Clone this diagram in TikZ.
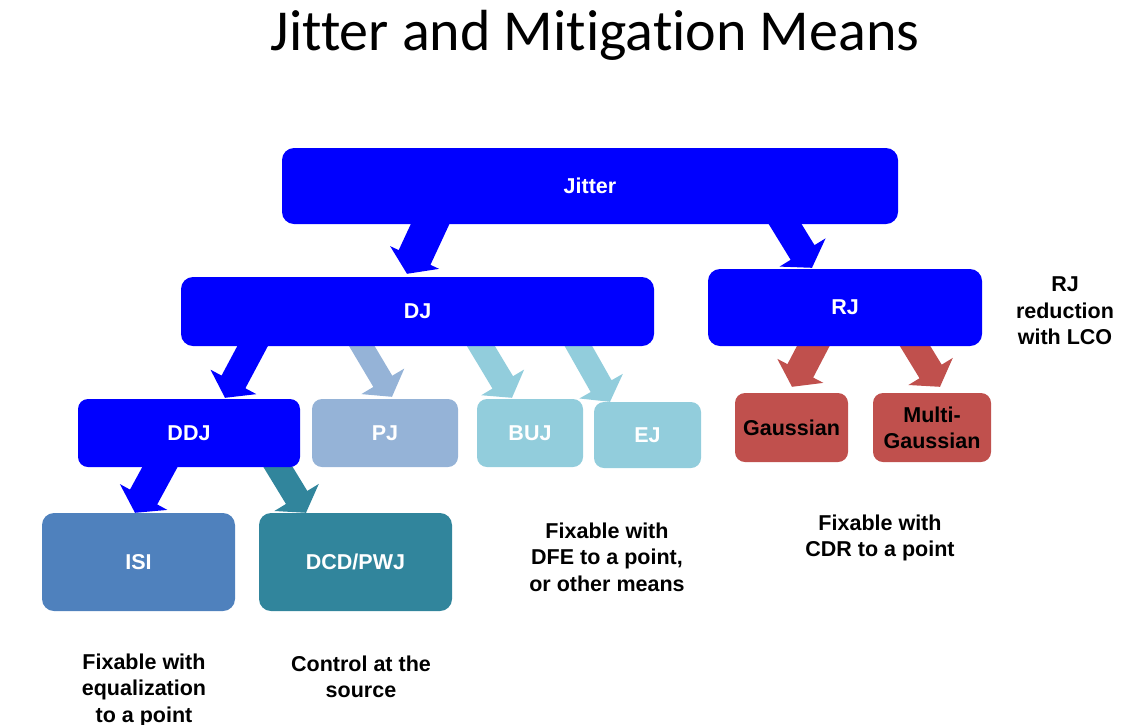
\documentclass[tikz,border=0pt]{standalone}
\usepackage{fontspec}
\setmainfont{Liberation Sans}
\newfontfamily\titlefont{Carlito}[Ligatures=NoCommon]
\usetikzlibrary{calc}
\pgfdeclarelayer{bg}
\pgfsetlayers{bg,main}
\definecolor{jblue}{HTML}{0000FF}
\definecolor{pjcol}{HTML}{95B3D7}
\definecolor{bujcol}{HTML}{92CDDC}
\definecolor{redcol}{HTML}{C0504D}
\definecolor{isicol}{HTML}{4F81BD}
\definecolor{tealcol}{HTML}{31859C}
% color, start, tip, half shaft width, half head width
\newcommand\blockarrow[5]{%
  \coordinate (bab) at ($(#3)!18pt!(#2)$);
  \fill[#1] ($(#2)!#4!90:(#3)$) -- ($(bab)!#4!90:(#3)$) -- ($(bab)!#5!90:(#3)$) -- (#3)
    -- ($(bab)!#5!-90:(#3)$) -- ($(bab)!#4!-90:(#3)$) -- ($(#2)!#4!-90:(#3)$) -- cycle;}
\tikzset{
  box/.style={rounded corners=12pt, inner sep=0pt, text=white, align=center,
    font=\fontsize{21.5}{26}\selectfont\bfseries},
  sbox/.style={box, rounded corners=10pt},
  note/.style={align=center, inner sep=0pt, font=\fontsize{21.5}{26.5}\selectfont\bfseries}
}
\begin{document}
\begin{tikzpicture}[x=1pt,y=-1pt]
\useasboundingbox (0,0) rectangle (1144,724);
\node[anchor=base, font=\titlefont\fontsize{58}{60}\selectfont] (title) at (595,50) {Jitter and Mitigation Means};

\node[box, fill=jblue, minimum width=616pt, minimum height=76pt] (jitter) at (590,186) {Jitter};
\node[box, fill=jblue, minimum width=473pt, minimum height=69pt] (dj) at (417.5,311.5) {DJ};
\node[box, fill=jblue, minimum width=274pt, minimum height=77pt] (rj) at (845,307.5) {RJ};
\node[sbox, fill=jblue, minimum width=222pt, minimum height=68pt] (ddj) at (189,433) {DDJ};
\node[sbox, fill=pjcol, minimum width=146pt, minimum height=68pt] (pj) at (385,433) {PJ};
\node[sbox, fill=bujcol, minimum width=106pt, minimum height=68pt] (buj) at (530,433) {BUJ};
\node[sbox, fill=bujcol, minimum width=107pt, minimum height=66pt] (ej) at (647.5,435) {EJ};
\node[sbox, fill=redcol, text=black, minimum width=113pt, minimum height=69pt] (gauss) at (791.5,427.5) {Gaussian};
\node[sbox, fill=redcol, text=black, minimum width=118pt, minimum height=69pt] (mgauss) at (932,427.5) {Multi-\\Gaussian};
\node[box, fill=isicol, minimum width=193pt, minimum height=98pt] (isi) at (138.5,562) {ISI};
\node[box, fill=tealcol, minimum width=193pt, minimum height=98pt] (dcd) at (355.5,562) {DCD/PWJ};

\node[note] (lco) at (1065,311) {RJ\\reduction\\with LCO};
\node[note] (dfe) at (607,557) {Fixable with\\DFE to a point,\\or other means};
\node[note] (cdr) at (880,538) {Fixable with\\CDR to a point};
\node[note] (eq) at (144,690) {Fixable with\\equalization\\to a point};
\node[note] (src) at (361,677) {Control at the\\source};

\coordinate (a1s) at ([xshift=-153pt,yshift=15pt]jitter.south);
\coordinate (a1t) at ([xshift=-10.5pt,yshift=3pt]dj.north);
\coordinate (a2s) at ([xshift=186pt,yshift=15pt]jitter.south);
\coordinate (a2t) at ([xshift=-33pt,yshift=1pt]rj.north);
\coordinate (a3s) at ([xshift=-157pt,yshift=15pt]dj.south);
\coordinate (a3t) at ([xshift=36pt,yshift=1pt]ddj.north);
\coordinate (a4s) at ([xshift=-64.5pt,yshift=15pt]dj.south);
\coordinate (a4t) at ([xshift=7pt,yshift=2pt]pj.north);
\coordinate (a5s) at ([xshift=54.5pt,yshift=15pt]dj.south);
\coordinate (a5t) at ([xshift=-18pt,yshift=1pt]buj.north);
\coordinate (a6s) at ([xshift=152.5pt,yshift=15pt]dj.south);
\coordinate (a6t) at ([xshift=-37.5pt]ej.north);
\coordinate (a7s) at ([xshift=-24pt,yshift=15pt]rj.south);
\coordinate (a7t) at ([xshift=0.5pt,yshift=6pt]gauss.north);
\coordinate (a8s) at ([xshift=61pt,yshift=15pt]rj.south);
\coordinate (a8t) at ([xshift=8pt,yshift=6pt]mgauss.north);
\coordinate (a9s) at ([xshift=-21pt,yshift=15pt]ddj.south);
\coordinate (a9t) at ([xshift=-3.5pt]isi.north);
\coordinate (a10s) at ([xshift=80pt,yshift=15pt]ddj.south);
\coordinate (a10t) at ([xshift=-49.5pt]dcd.north);

\begin{pgfonlayer}{bg}
\blockarrow{jblue}{a1s}{a1t}{17.5pt}{27pt}
\blockarrow{jblue}{a2s}{a2t}{14pt}{27pt}
\blockarrow{jblue}{a3s}{a3t}{13.5pt}{26pt}
\blockarrow{pjcol}{a4s}{a4t}{11pt}{25pt}
\blockarrow{bujcol}{a5s}{a5t}{12pt}{25pt}
\blockarrow{bujcol}{a6s}{a6t}{12pt}{25pt}
\blockarrow{redcol}{a7s}{a7t}{14.5pt}{26pt}
\blockarrow{redcol}{a8s}{a8t}{13pt}{26pt}
\blockarrow{jblue}{a9s}{a9t}{15.5pt}{27pt}
\blockarrow{tealcol}{a10s}{a10t}{12.5pt}{26pt}
\end{pgfonlayer}
\end{tikzpicture}
\end{document}
